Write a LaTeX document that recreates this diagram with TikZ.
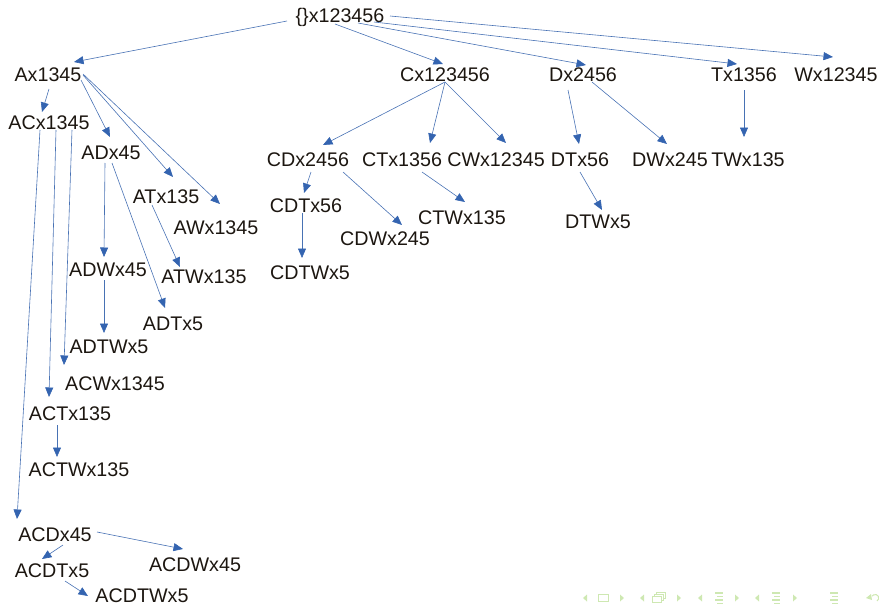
\documentclass[tikz,border=0pt]{standalone}
\usepackage{fontspec}
\setmainfont{Liberation Sans}
\usetikzlibrary{arrows.meta,calc}
\definecolor{edgeblue}{RGB}{72,114,180}
\definecolor{tipblue}{RGB}{52,100,176}
\definecolor{labelink}{RGB}{28,22,16}
\definecolor{navgreen}{RGB}{206,232,178}
\tikzset{
  lbl/.style={font=\fontsize{19.7}{22}\selectfont, text=labelink, inner sep=0pt,
    text height=14pt, text depth=0pt, anchor=center},
  edge/.style={draw=edgeblue, line width=0.6pt,
    -{Triangle[length=9.5pt,width=8pt,color=tipblue,fill=tipblue]}},
  navtri/.style={fill=navgreen, draw=none},
  navline/.style={draw=navgreen, line width=1.1pt},
}
\begin{document}
\begin{tikzpicture}[x=1pt,y=-1pt]
\useasboundingbox (0,0) rectangle (879,605);

% labels of the lattice
\node[lbl] (root)   at (340,15)  {\{\}x123456};
\node[lbl] (Ax)     at (48,74)   {Ax1345};
\node[lbl] (Cx)     at (445,74)  {Cx123456};
\node[lbl] (Dx)     at (583,74)  {Dx2456};
\node[lbl] (Tx)     at (744,74)  {Tx1356};
\node[lbl] (Wx)     at (836,74)  {Wx12345};
\node[lbl] (ACx)    at (49,122)  {ACx1345};
\node[lbl] (ADx)    at (111,152) {ADx45};
\node[lbl] (ATx)    at (166,196) {ATx135};
\node[lbl] (AWx)    at (216,227) {AWx1345};
\node[lbl] (CDx)    at (308,159) {CDx2456};
\node[lbl] (CTx)    at (402,159) {CTx1356};
\node[lbl] (CWx)    at (496,159) {CWx12345};
\node[lbl] (DTx)    at (580,159) {DTx56};
\node[lbl] (DWx)    at (670,159) {DWx245};
\node[lbl] (TWx)    at (748,159) {TWx135};
\node[lbl] (CDTx)   at (306,205) {CDTx56};
\node[lbl] (CDWx)   at (385,238) {CDWx245};
\node[lbl] (CTWx)   at (462,217) {CTWx135};
\node[lbl] (DTWx)   at (598,221) {DTWx5};
\node[lbl] (ADWx)   at (108,269) {ADWx45};
\node[lbl] (ATWx)   at (204,276) {ATWx135};
\node[lbl] (CDTWx)  at (310,272) {CDTWx5};
\node[lbl] (ADTx)   at (173,323) {ADTx5};
\node[lbl] (ADTWx)  at (109,346) {ADTWx5};
\node[lbl] (ACWx)   at (115,383) {ACWx1345};
\node[lbl] (ACTx)   at (70,413)  {ACTx135};
\node[lbl] (ACTWx)  at (79,469)  {ACTWx135};
\node[lbl] (ACDx)   at (55,534)  {ACDx45};
\node[lbl] (ACDWx)  at (195,564) {ACDWx45};
\node[lbl] (ACDTx)  at (52,570)  {ACDTx5};
\node[lbl] (ACDTWx) at (142,595) {ACDTWx5};

% edges of the lattice
\draw[edge] ($(root)+(-53,6)$) -- ($(Ax)+(26,-12)$);
\draw[edge] ($(root)+(-5,9)$)  -- ($(Cx)+(-2,-10)$);
\draw[edge] ($(root)+(18,8)$)  -- ($(Dx)+(3,-9)$);
\draw[edge] ($(root)+(34,7)$)  -- ($(Tx)+(-7,-10)$);
\draw[edge] ($(root)+(50,1)$)  -- ($(Wx)+(-3,-17)$);

\draw[edge] ($(Ax)+(1,15)$)  -- ($(ACx)+(-7,-10)$);
\draw[edge] ($(Ax)+(33,6)$)  -- ($(ADx)+(-1,-15)$);
\draw[edge] ($(Ax)+(35,1)$)  -- ($(ATx)+(7,-19)$);
\draw[edge] ($(Ax)+(35,0)$)  -- ($(AWx)+(4,-23)$);

\draw[edge] ($(ACx)+(-9,8)$) -- ($(ACDx)+(-38,-15)$);
\draw[edge] ($(ACx)+(7,8)$)  -- ($(ACTx)+(-21,-16)$);
\draw[edge] ($(ACx)+(23,8)$) -- ($(ACWx)+(-51,-18)$);

\draw[edge] ($(ADx)+(-6,11)$) -- ($(ADWx)+(-4,-12)$);
\draw[edge] ($(ADx)+(1,11)$)  -- ($(ADTx)+(-8,-15)$);
\draw[edge] ($(ATx)+(-14,9)$) -- ($(ATWx)+(-24,-9)$);
\draw[edge] ($(ADWx)+(-4,11)$) -- ($(ADTWx)+(-5,-13)$);
\draw[edge] ($(ACTx)+(-13,12)$) -- ($(ACTWx)+(-22,-12)$);

\draw[edge] ($(ACDx)+(42,-2)$) -- ($(ACDWx)+(-12,-15)$);
\draw[edge] ($(ACDx)+(8,11)$)  -- ($(ACDTx)+(-10,-11)$);
\draw[edge] ($(ACDTx)+(13,11)$) -- ($(ACDTWx)+(-54,1)$);

\draw[edge] ($(Cx)+(0,8)$) -- ($(CDx)+(15,-14)$);
\draw[edge] ($(Cx)+(0,8)$) -- ($(CTx)+(28,-16)$);
\draw[edge] ($(Cx)+(0,8)$) -- ($(CWx)+(10,-16)$);

\draw[edge] ($(Dx)+(-15,16)$) -- ($(DTx)+(-1,-15)$);
\draw[edge] ($(Dx)+(9,8)$)    -- ($(DWx)+(-3,-15)$);
\draw[edge] ($(Tx)+(0,16)$)   -- ($(TWx)+(-4,-22)$);

\draw[edge] ($(CTx)+(20,13)$) -- ($(CTWx)+(3,-15)$);
\draw[edge] ($(DTx)+(0,13)$)  -- ($(DTWx)+(4,-11)$);
\draw[edge] ($(CDx)+(3,13)$)  -- ($(CDTx)+(-2,-12)$);
\draw[edge] ($(CDx)+(35,13)$) -- ($(CDWx)+(17,-13)$);
\draw[edge] ($(CDTx)+(-4,8)$) -- ($(CDTWx)+(-8,-14)$);

% navigation symbols
\foreach \xl/\xr in {585/622, 642/679, 700/737, 757/795} {
  \fill[navtri] (\xl+2,594.5) -- (\xl+2,601.5) -- (\xl-2,598) -- cycle;
  \fill[navtri] (\xr-2,594.5) -- (\xr-2,601.5) -- (\xr+2,598) -- cycle;
}
\draw[navgreen, line width=0.9pt] (598,594.5) rectangle (608,601.5);
\draw[navgreen, line width=0.9pt, fill=white] (656,592.5) rectangle (665,598.5);
\draw[navgreen, line width=0.9pt, fill=white] (654,594.5) rectangle (663,600.5);
\draw[navgreen, line width=0.9pt, fill=white] (652,596.5) rectangle (661,602.5);
\foreach \cx in {719, 776, 834} {
  \draw[navline] (\cx-4,593) -- (\cx+4,593);
  \draw[navline] (\cx-2,596.5) -- (\cx+4,596.5);
  \draw[navline] (\cx-4,600) -- (\cx+4,600);
  \draw[navline] (\cx-2,603.5) -- (\cx+4,603.5);
}
\draw[navgreen, line width=1pt] (877,601) arc[start angle=-60, end angle=150, radius=3.5pt];
\fill[navgreen] (866,598) -- (871,594) -- (872,600) -- cycle;
\end{tikzpicture}
\end{document}
